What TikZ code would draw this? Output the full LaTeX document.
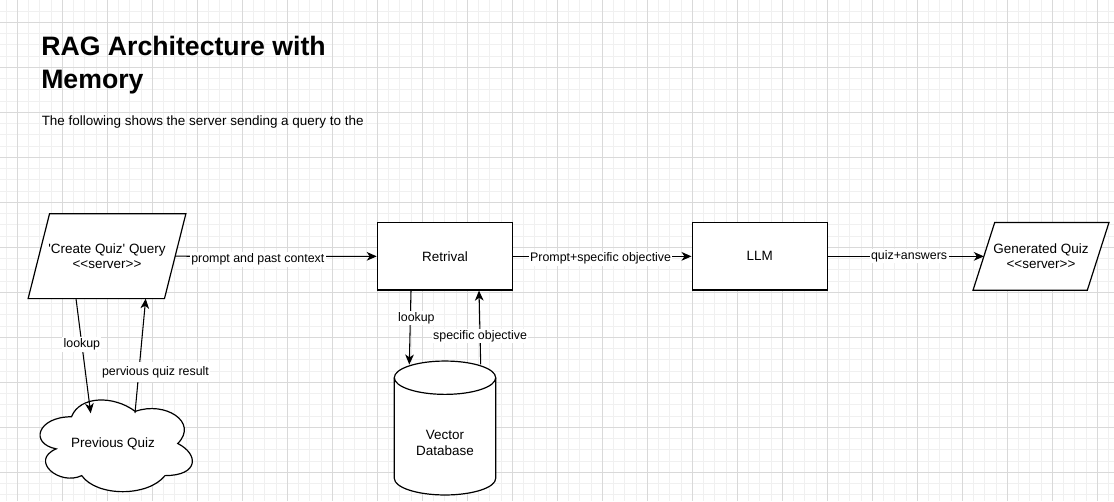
\documentclass[tikz,border=0pt]{standalone}
\usepackage{fontspec}
\setmainfont{Liberation Sans}[Ligatures=TeXOff]
\usetikzlibrary{calc,arrows.meta}

\tikzset{
  shapeline/.style={draw, line width=0.9pt, fill=white},
  box/.style={shapeline, minimum width=101.5pt, minimum height=50.5pt, inner sep=0pt,
    font=\fontsize{10.1}{11.25}\selectfont, align=center},
  txt/.style={inner sep=0pt, font=\fontsize{10.1}{11.25}\selectfont, align=center},
  flow/.style={line width=0.8pt, -{Stealth[length=7.5pt, width=6.5pt, inset=2.2pt]}},
  lbl/.style={fill=white, inner sep=1pt, font=\fontsize{9.3}{11}\selectfont},
  minorgrid/.style={draw=black!6, line width=0.75pt},
  majorgrid/.style={draw=black!15, line width=0.75pt},
  heading/.style={inner sep=0pt, anchor=base west, font=\bfseries\fontsize{20}{24}\selectfont},
  intro/.style={inner sep=0pt, anchor=base west, font=\fontsize{10.1}{12}\selectfont},
}

\begin{document}
\begin{tikzpicture}[x=0.75pt, y=-0.75pt]
		%%%%% START %%%%%
		
		\useasboundingbox (0,0) rectangle (1114,501);
		\fill[white] (0,0) rectangle (1114,501);
		
		% grid
		\foreach \i in {0,...,98}
		  \draw[minorgrid] ({6.05+11.25*\i},0) -- ({6.05+11.25*\i},501);
		\foreach \j in {0,...,44}
		  \draw[minorgrid] (0,{11.05+11.25*\j}) -- (1114,{11.05+11.25*\j});
		\foreach \i in {0,...,24}
		  \draw[majorgrid] ({17.3+45*\i},0) -- ({17.3+45*\i},501);
		\foreach \j in {0,...,10}
		  \draw[majorgrid] (0,{22.3+45*\j}) -- (1114,{22.3+45*\j});
		
		% title
		\node[heading] (ttl1) at (41,55) {RAG Architecture with};
		\node[heading] (ttl2) at (41,88.3) {Memory};
		\node[intro] (sub) at (41.5,125.7) {The following shows the server sending a query to the};
		
		% query (parallelogram)
		\node[txt, minimum width=101.85pt, minimum height=63.2pt] (qry) at (107,256.2) {};
		\draw[shapeline] ($(qry.north west)+(10.7,0)$) -- ($(qry.north east)+(10.7,0)$)
		  -- ($(qry.south east)+(-10.7,0)$) -- ($(qry.south west)+(-10.7,0)$) -- cycle;
		\node[txt] at (qry.center) {'Create Quiz' Query\\<<server>>};
		
		% retrieval and llm
		\node[box] (ret) at (445,256.35) {Retrival};
		\node[box] (llm) at (759.8,256.35) {LLM};
		
		% generated quiz (parallelogram)
		\node[txt, minimum width=85.3pt, minimum height=50.5pt] (gq) at (1041,256.35) {};
		\draw[shapeline] ($(gq.north west)+(10.85,0)$) -- ($(gq.north east)+(10.85,0)$)
		  -- ($(gq.south east)+(-10.85,0)$) -- ($(gq.south west)+(-10.85,0)$) -- cycle;
		\node[txt] at (gq.center) {Generated Quiz\\<<server>>};
		
		% vector database (cylinder)
		\draw[shapeline] (394.3,478.3) arc[start angle=180, end angle=360, x radius=38.03pt, y radius=12.5pt]
		  -- (495.7,377.7) arc[start angle=0, end angle=180, x radius=38.03pt, y radius=12.5pt] -- cycle;
		\draw[line width=0.9pt] (394.3,377.7) arc[start angle=180, end angle=360, x radius=38.03pt, y radius=12.5pt];
		\node[txt, font=\fontsize{10.1}{12.4}\selectfont] (vdb) at (445,443) {Vector\\Database};
		\coordinate (dbin) at (409.3,364.5);
		\coordinate (dbout) at (480.7,364.3);
		
		% previous quiz (cloud)
		\begin{scope}[shift={(21.75pt,-292.5pt)}, x=127.5pt, y=-80.25pt]
		  \draw[shapeline] (0.25,0.25) .. controls (0.05,0.25) and (0,0.5) .. (0.16,0.55)
		    .. controls (0,0.66) and (0.18,0.9) .. (0.31,0.8)
		    .. controls (0.4,1) and (0.7,1) .. (0.8,0.8)
		    .. controls (1,0.8) and (1,0.6) .. (0.875,0.5)
		    .. controls (1,0.3) and (0.8,0.1) .. (0.625,0.2)
		    .. controls (0.5,0.05) and (0.3,0.05) .. (0.25,0.25) -- cycle;
		\end{scope}
		\node[txt] (pq) at (113,444) {Previous Quiz};
		\coordinate (pqin) at (90.7,413.3);
		\coordinate (pqout) at (135,413);
		
		% connectors
		\draw[flow] ($(qry.south)+(-31,0)$) -- (pqin) node[lbl, pos=0.4] {lookup};
		\draw[flow] (pqout) -- ($(qry.south)+(38.7,0)$) node[lbl, pos=0.36, xshift=12.5pt, inner ysep=3pt] {pervious quiz result};
		\draw[flow] (qry.east) -- (ret.west) node[lbl, pos=0.41, yshift=-2.5pt] {prompt and past context};
		\draw[flow] (ret.east) -- (llm.west) node[lbl, pos=0.49, yshift=-1.8pt] {Prompt+specific objective};
		\draw[flow] (llm.east) -- (gq.west) node[lbl, pos=0.52] {quiz+answers};
		\draw[flow] ($(ret.south)+(-34,0)$) -- (dbin) node[lbl, pos=0.37, xshift=4.5pt] {lookup};
		\draw[flow] (dbout) -- ($(ret.south)+(34,0)$) node[lbl, pos=0.38] {specific objective};
		
		%%%%% END %%%%%
\end{tikzpicture}
\end{document}
